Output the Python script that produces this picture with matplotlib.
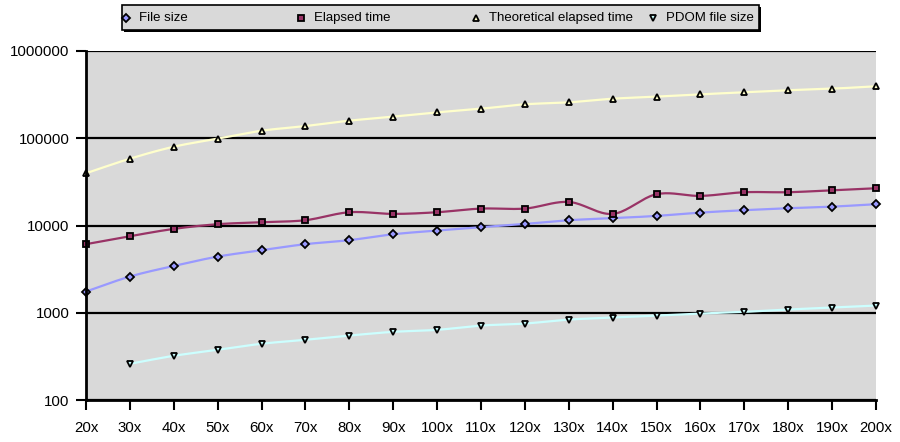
import numpy as np
import matplotlib
matplotlib.use("Agg")
import matplotlib.pyplot as plt
from matplotlib.lines import Line2D
from matplotlib.patches import Rectangle

plt.rcParams['font.family'] = ['Liberation Sans', 'DejaVu Sans']

categories = ["20x", "30x", "40x", "50x", "60x", "70x", "80x", "90x", "100x", "110x",
              "120x", "130x", "140x", "150x", "160x", "170x", "180x", "190x", "200x"]

file_size = [1750, 2600, 3440, 4400, 5210, 6110, 6790, 7940, 8750, 9570,
             10430, 11500, 12130, 12880, 14060, 14970, 15780, 16450, 17540]
elapsed_time = [6110, 7540, 9140, 10350, 10910, 11500, 14190, 13580, 14190, 15630,
                15630, 18620, 13580, 22840, 21840, 24060, 24060, 25360, 26710]
theoretical_time = [39700, 58300, 80000, 99000, 122000, 138000, 159000, 177000, 198000, 218000,
                    245000, 258000, 284000, 300000, 319000, 336000, 355000, 370000, 394000]
pdom_file_size = [None, 260, 321, 376, 441, 490, 548, 604, 637, 713,
                  752, 835, 881, 929, 979, 1024, 1089, 1148, 1209]

series_names = ["File size", "Elapsed time", "Theoretical elapsed time", "PDOM file size"]
line_colors = ["#9999ff", "#993366", "#ffffcc", "#ccffff"]
marker_face = ["#9999ff", "#993366", "#ffffcc", "#ccffff"]
markers = ["D", "s", "^", "v"]
msizes = [3.6, 4.8, 4.2, 4.2]


def smooth(xs, ys, n=20):
    """Catmull-Rom spline through points in (x, log10 y) space."""
    xs = np.asarray(xs, float)
    ly = np.log10(np.asarray(ys, float))
    px = np.concatenate([[2 * xs[0] - xs[1]], xs, [2 * xs[-1] - xs[-2]]])
    py = np.concatenate([[2 * ly[0] - ly[1]], ly, [2 * ly[-1] - ly[-2]]])
    ox, oy = [], []
    for i in range(1, len(px) - 2):
        t = np.linspace(0, 1, n, endpoint=False)
        for arr, out in ((px, ox), (py, oy)):
            p0, p1, p2, p3 = arr[i - 1], arr[i], arr[i + 1], arr[i + 2]
            out.extend(0.5 * ((2 * p1) + (-p0 + p2) * t
                              + (2 * p0 - 5 * p1 + 4 * p2 - p3) * t ** 2
                              + (-p0 + 3 * p1 - 3 * p2 + p3) * t ** 3))
    ox.append(xs[-1]); oy.append(ly[-1])
    return np.array(ox), 10 ** np.array(oy)


fig = plt.figure(figsize=(9, 4.42), dpi=100)
ax = fig.add_axes([86 / 900, 1 - 400 / 442, (876 - 86) / 900, (400 - 51) / 442])
ax.set_facecolor("#d9d9d9")

x_all = np.arange(len(categories))
all_series = [file_size, elapsed_time, theoretical_time, pdom_file_size]
for vals, lc, mf, mk, ms in zip(all_series, line_colors, marker_face, markers, msizes):
    xs = [x for x, v in zip(x_all, vals) if v is not None]
    ys = [v for v in vals if v is not None]
    sx, sy = smooth(xs, ys)
    ax.plot(sx, sy, color=lc, lw=1.6, zorder=3, solid_capstyle="butt")
    ax.plot(xs, ys, ls="none", marker=mk, ms=ms, mfc=mf, mec="black", mew=1.3, zorder=4,
            clip_on=False)

ax.set_yscale("log")
ax.set_ylim(100, 1000000)
ax.set_xlim(0, len(categories) - 1)
yt = [100, 1000, 10000, 100000, 1000000]
ax.set_yticks(yt)
ax.set_yticklabels([str(v) for v in yt])
ax.yaxis.set_minor_locator(matplotlib.ticker.NullLocator())
ax.set_xticks(x_all)
ax.set_xticklabels(categories)
ax.tick_params(axis="both", labelsize=10.8, length=7, width=1.5, color="black")
ax.tick_params(axis="x", pad=8)
ax.tick_params(axis="y", pad=5)
ax.grid(axis="y", color="black", lw=1.6, zorder=1)
ax.set_axisbelow(True)
for side in ["top", "right"]:
    ax.spines[side].set_visible(False)
for side in ["left", "bottom"]:
    ax.spines[side].set_linewidth(2)
    ax.spines[side].set_zorder(5)

# Legend (Excel style, equal column widths)
W, H = 900.0, 442.0
lx0, lx1, ly0, ly1 = 122, 759, 5, 30
fig.patches.append(Rectangle((lx0 / W + 2 / W, 1 - (ly1 + 2) / H), (lx1 - lx0) / W, (ly1 - ly0) / H,
                             transform=fig.transFigure, facecolor="black", edgecolor="none",
                             zorder=0))
fig.patches.append(Rectangle((lx0 / W, 1 - ly1 / H), (lx1 - lx0) / W, (ly1 - ly0) / H,
                             transform=fig.transFigure, facecolor="#d9d9d9", edgecolor="black",
                             lw=1.2, zorder=1))
mx_pos = [126, 301, 476, 653]
cy = 1 - 18 / H
for name, mf, mk, ms, mx in zip(series_names, marker_face, markers, msizes, mx_pos):
    fig.add_artist(Line2D([mx / W], [cy], transform=fig.transFigure, ls="none", marker=mk,
                          ms=ms, mfc=mf, mec="black", mew=1.3, zorder=3))
    fig.text((mx + 13) / W, cy, name, fontsize=9.5, va="center", ha="left", zorder=3)

fig.savefig("out.png", dpi=100)
